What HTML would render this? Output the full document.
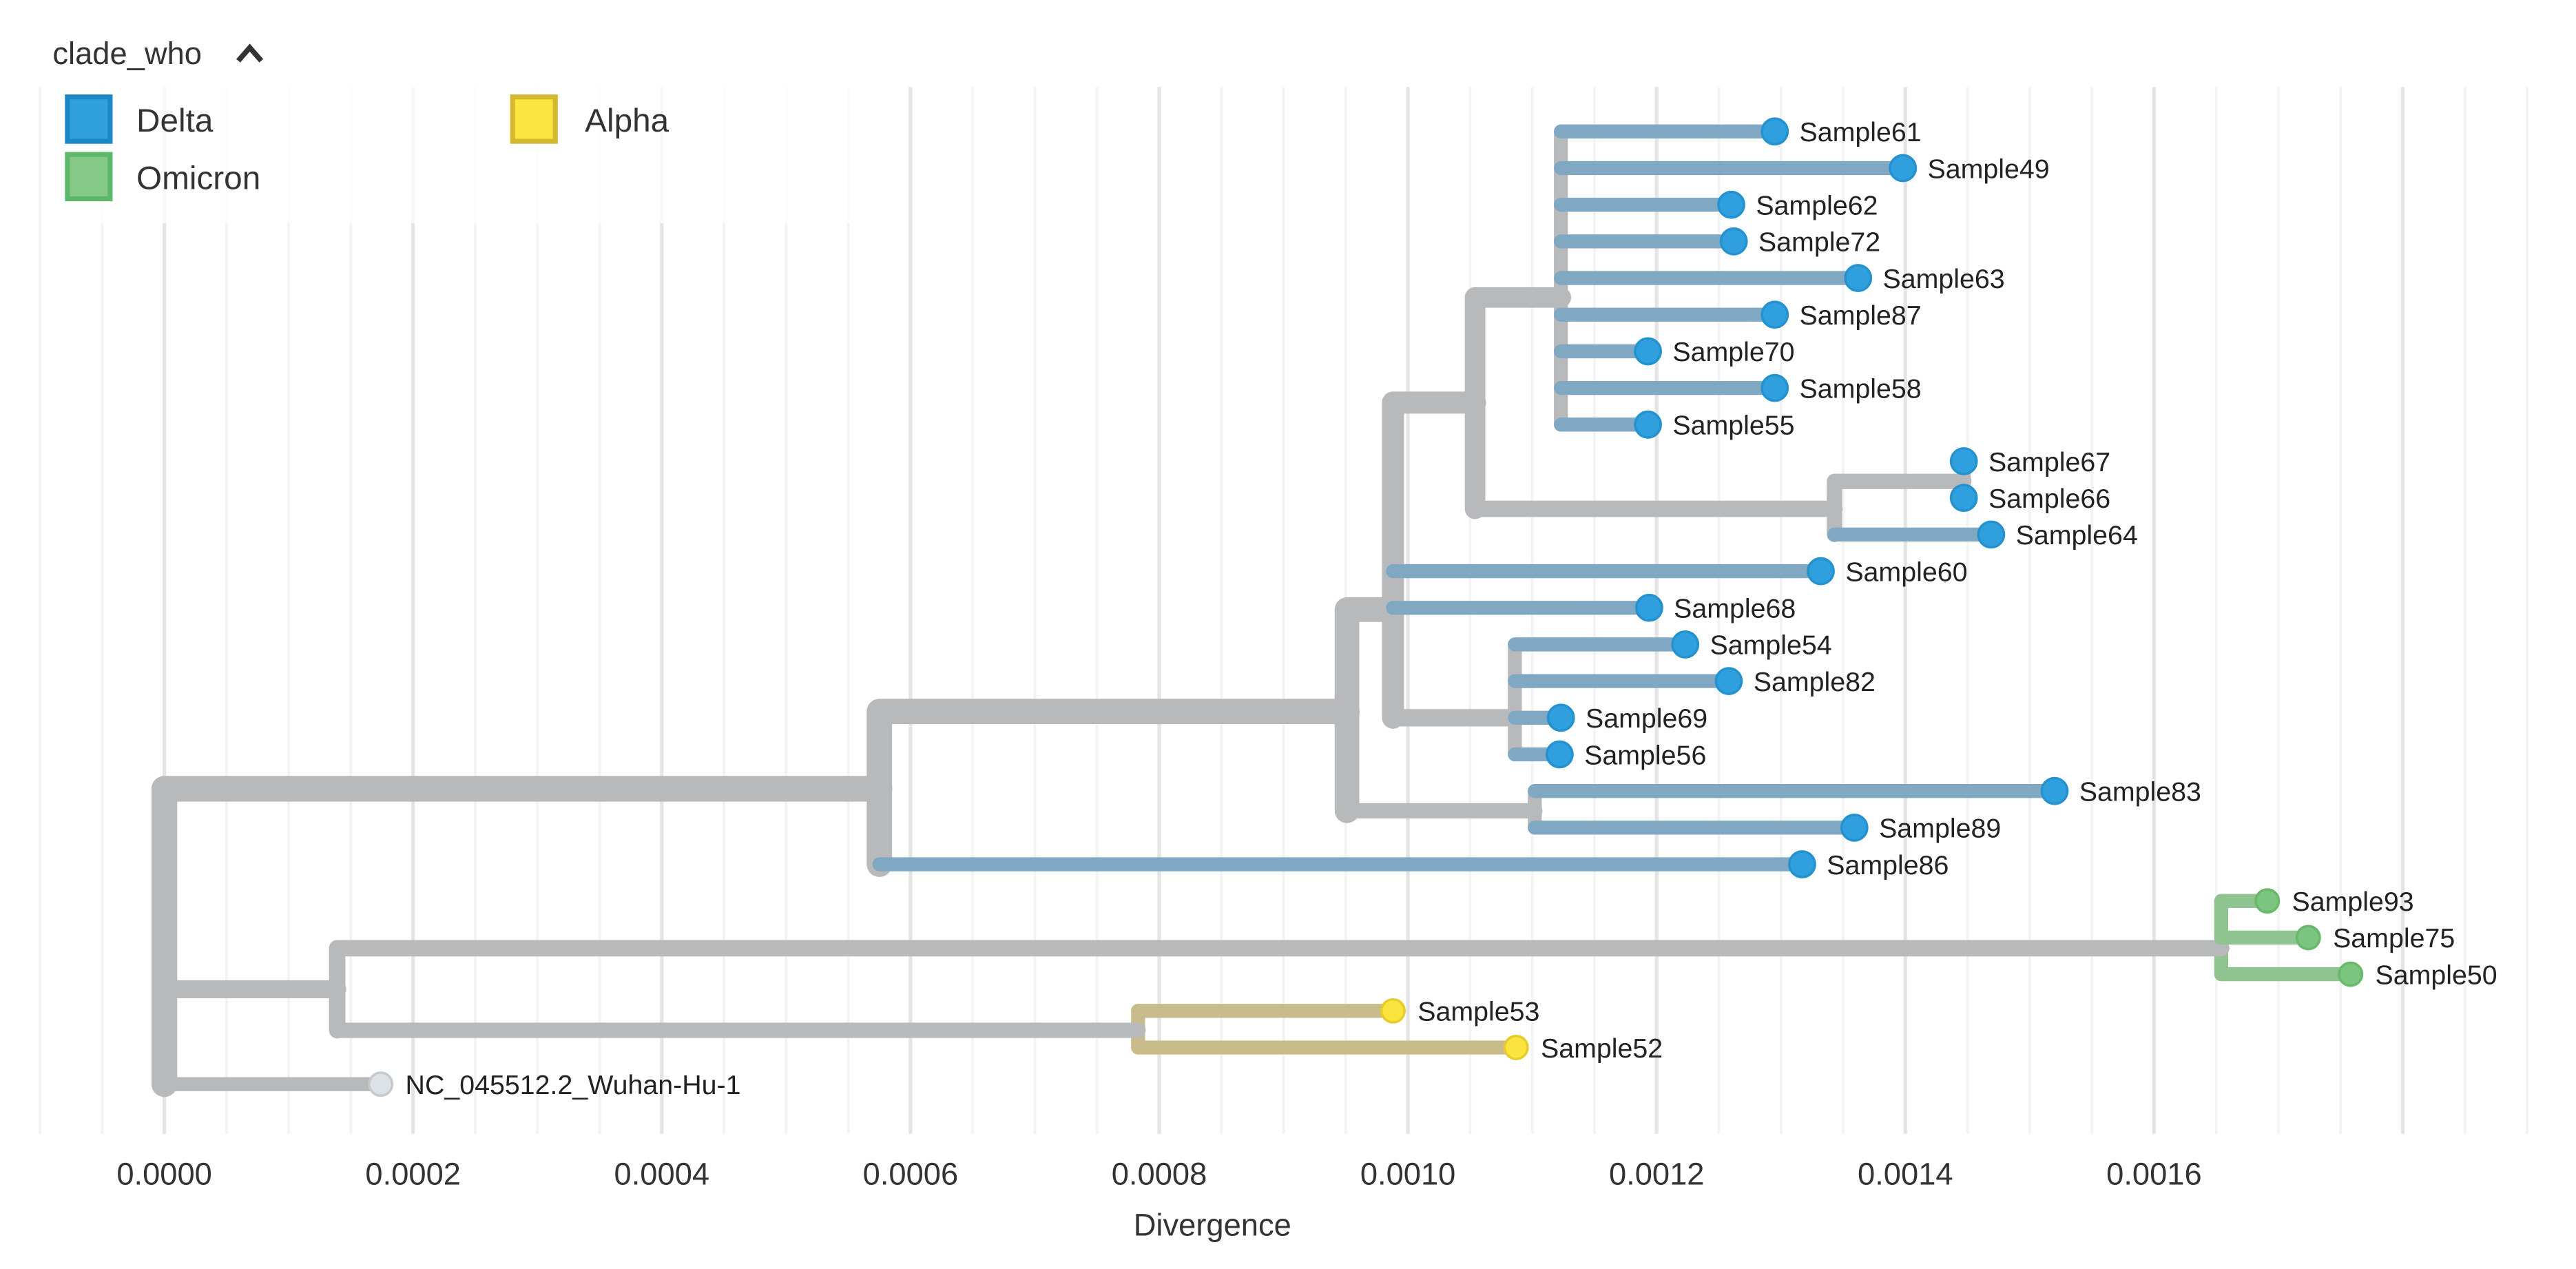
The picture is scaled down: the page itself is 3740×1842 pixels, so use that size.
<!DOCTYPE html>
<html><head><meta charset="utf-8"><style>
html,body{margin:0;padding:0;background:#fff;}
svg{display:block;font-family:"Liberation Sans",sans-serif;}
</style></head><body>
<svg id="chart" width="3740" height="1842" viewBox="0 0 1568 772.3" xmlns="http://www.w3.org/2000/svg">
<g id="grid"></g>
<g id="legend">
  <rect x="25" y="52" width="520" height="84" fill="#fff" fill-opacity="0.75"/>
  <text x="32" y="39" font-size="19" fill="#333">clade_who</text>
  <path d="M145 37 L152 29 L159 37" fill="none" stroke="#333" stroke-width="3.2"/>
  <g>
    <rect x="41" y="59" width="26" height="27" fill="#30a1dd" stroke="#1b87c6" stroke-width="3"/>
    <text x="83" y="80" font-size="20" fill="#333">Delta</text>
  </g>
  <g>
    <rect x="41" y="94" width="26" height="27" fill="#85c988" stroke="#5eb86a" stroke-width="3"/>
    <text x="83" y="115" font-size="20" fill="#333">Omicron</text>
  </g>
  <g>
    <rect x="312" y="59" width="26" height="27" fill="#fde540" stroke="#d4b830" stroke-width="3"/>
    <text x="356" y="80" font-size="20" fill="#333">Alpha</text>
  </g>
</g>
<g id="tree"></g>
<g id="axis"></g>
<text x="738" y="752" font-size="19" fill="#333" text-anchor="middle">Divergence</text>
</svg>
<script>
// tips (row order)
const tipNames = ["Sample61","Sample49","Sample62","Sample72","Sample63","Sample87","Sample70","Sample58","Sample55","Sample67","Sample66","Sample64","Sample60","Sample68","Sample54","Sample82","Sample69","Sample56","Sample83","Sample89","Sample86","Sample93","Sample75","Sample50","Sample53","Sample52","NC_045512.2_Wuhan-Hu-1"];
const tipDiv = [0.001295,0.001398,0.00126,0.001262,0.001362,0.001295,0.001193,0.001295,0.001193,0.001447,0.001447,0.001469,0.001332,0.001194,0.001223,0.001258,0.001123,0.001122,0.00152,0.001359,0.001317,0.001691,0.001724,0.001758,0.000988,0.001087,0.000174];
const tipClade = ["D","D","D","D","D","D","D","D","D","D","D","D","D","D","D","D","D","D","D","D","D","O","O","O","A","A","R"];
const tipParent = ["n950","n950","n950","n950","n950","n950","n950","n950","n950","n1195","n1195","n1117","n848","n848","n922","n922","n922","n922","n934","n934","n535","n1352","n1352","n1352","n693","n693","root"];
// internal nodes
const nodeIds = ["root","n535","n820","n848","n898","n950","n1117","n1195","n922","n934","n205","n1352","n693"];
const nodeParent = [null,"root","n535","n820","n848","n898","n898","n1117","n848","n820","root","n205","n205"];
const nodeDiv = [0,0.000575,0.000951,0.000988,0.001054,0.001123,0.001343,0.001447,0.001086,0.001102,0.000139,0.001654,0.000783];
const nodeRow = [17.94,17.94,15.83,13.05,7.4,4.53,10.3,9.55,16.0,18.54,23.41,22.29,24.53];
const nodeClade = ["R","R","R","R","R","R","R","R","R","R","R","O","A"];
// axis
const tickValues = [0,0.0002,0.0004,0.0006,0.0008,0.0010,0.0012,0.0014,0.0016];
const tickLabels = ["0.0000","0.0002","0.0004","0.0006","0.0008","0.0010","0.0012","0.0014","0.0016"];

const NS="http://www.w3.org/2000/svg";
const xS = d => 100 + d/0.001*757;
const yS = r => 80 + r*22.3;
const branchCol = {D:"#80a8c3",O:"#8fc390",A:"#c7bc8a",R:"#b8b9bb"};
const dotFill = {D:"#2fa0dd",O:"#7cc57e",A:"#fbe43e",R:"#dde2e6"};
const dotStroke = {D:"#2592d0",O:"#69b86c",A:"#e6cc2c",R:"#c4cacf"};
function mk(tag, attrs, parent){const e=document.createElementNS(NS,tag);for(const k in attrs)e.setAttribute(k,attrs[k]);parent.appendChild(e);return e;}

// grid
const grid=document.getElementById('grid');
for(let i=-2;i<=38;i++){
  const v=i*0.00005; const x=xS(v);
  if(x<20||x>1540) continue;
  const major = i%4===0;
  const l=mk('line',{x1:x,x2:x,y1:53,y2:690,stroke:major?'#e4e4e4':'#f3f3f3','stroke-width':major?2.2:1.6},grid);
  
  
}
// axis labels
const axis=document.getElementById('axis');
tickValues.forEach((v,i)=>{
  const t=mk('text',{x:xS(v),y:721,'font-size':19,fill:'#333','text-anchor':'middle'},axis);
  t.textContent=tickLabels[i];
  
  
});

// tree structure
const nodeY={}, nodeX={}, count={}, children={};
nodeIds.forEach((id,i)=>{nodeX[id]=xS(nodeDiv[i]);nodeY[id]=yS(nodeRow[i]);children[id]=[];count[id]=0;});
tipNames.forEach((n,i)=>{children[tipParent[i]].push({y:yS(i),tip:true,i});});
nodeIds.forEach((id,i)=>{if(nodeParent[i])children[nodeParent[i]].push({y:nodeY[id],tip:false,id});});
function cnt(id){let c=0;children[id].forEach(ch=>{c+= ch.tip?1:cnt(ch.id);});count[id]=c;return c;}
cnt("root");
const wOf = n => 6.5+2*Math.sqrt(n);
const tree=document.getElementById('tree');
const gV=mk('g',{},tree), gH=mk('g',{},tree), gT=mk('g',{},tree);
// verticals
nodeIds.forEach((id,i)=>{
  const ys=children[id].map(c=>c.y);
  const mw=Math.max(...children[id].map(c=>c.tip?wOf(1):wOf(count[c.id])));
  const l=mk('line',{x1:nodeX[id],x2:nodeX[id],y1:Math.min(...ys),y2:Math.max(...ys),stroke:branchCol[nodeClade[i]],'stroke-width':mw,'stroke-linecap':'round'},gV);
  
  
});
// internal horizontals
nodeIds.forEach((id,i)=>{
  if(!nodeParent[i]) return;
  const l=mk('line',{x1:nodeX[nodeParent[i]],x2:nodeX[id],y1:nodeY[id],y2:nodeY[id],stroke:'#b8b9bb','stroke-width':wOf(count[id]),'stroke-linecap':'round'},gH);
  
  
});
// tips
tipNames.forEach((n,i)=>{
  const px=nodeX[tipParent[i]], x=xS(tipDiv[i]), y=yS(i), c=tipClade[i];
  const l=mk('line',{x1:px,x2:x,y1:y,y2:y,stroke:branchCol[c],'stroke-width':wOf(1),'stroke-linecap':'round'},gH);
  
  
  const r = c==='D'?7.8:7;
  const d=mk('circle',{cx:x,cy:y,r:r,fill:dotFill[c],stroke:dotStroke[c],'stroke-width':1.5},gT);
  
  
  const t=mk('text',{x:x+15,y:y+6,'font-size':16.5,fill:'#222'},gT);
  t.textContent=n;
  
  
});
</script>
</body></html>
